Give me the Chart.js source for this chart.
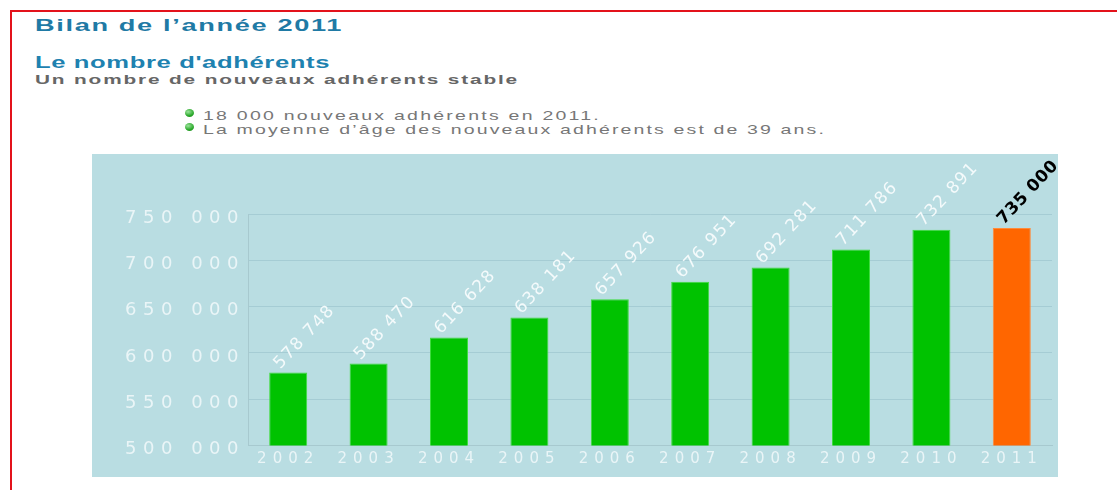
<!DOCTYPE html>
<html lang="fr">
<head>
<meta charset="utf-8">
<title>Bilan de l'année 2011</title>
<script src="https://cdn.jsdelivr.net/npm/chart.js@4.4.0/dist/chart.umd.min.js"></script>
<style>
  body { margin: 0; width: 1117px; height: 490px; background: #fff; position: relative; overflow: hidden; font-family: "Liberation Sans", Arial, sans-serif; }
  #cadre { position: absolute; left: 10px; top: 10px; width: 1120px; height: 490px; border-top: 2px solid #e3121b; border-left: 2px solid #e3121b; }
  .txt { position: absolute; left: 35px; margin: 0; white-space: nowrap; transform-origin: 0 0; line-height: 1; }
  #titre { top: 16.5px; font-size: 17px; font-weight: bold; color: #1f7aa5; }
  #soustitre { top: 54.5px; font-size: 16px; font-weight: bold; color: #1e82b0; }
  #accroche { top: 73px; font-size: 13px; font-weight: bold; color: #666; }
  .puce { left: 203px; font-size: 13px; color: #777; }
  .puce::before { content: ""; position: absolute; left: -12px; top: 0px; width: 6px; height: 8px; border-radius: 50%; background: radial-gradient(circle at 35% 35%, #9be39b, #2aa82a 60%, #1d861d); }
  #p1 { top: 109px; }
  #p2 { top: 123px; }
  #panneau { position: absolute; left: 92px; top: 154px; width: 966px; height: 323px; background: #b9dde2; }
  #zone { position: absolute; left: 92px; top: 154px; width: 1000px; height: 323px; }
</style>
</head>
<body>
<div id="cadre"></div>
<p class="txt" id="titre" data-w="308" data-s="1.6">Bilan de l’année 2011</p>
<p class="txt" id="soustitre" data-w="295" data-s="1.6">Le nombre d'adhérents</p>
<p class="txt" id="accroche" data-w="484" data-s="1.6">Un nombre de nouveaux adhérents stable</p>
<p class="txt puce" id="p1" data-w="398" data-s="1.5">18 000 nouveaux adhérents en 2011.</p>
<p class="txt puce" id="p2" data-w="623" data-s="1.5">La moyenne d’âge des nouveaux adhérents est de 39 ans.</p>
<div id="panneau"></div>
<div id="zone"><canvas id="adherentsChart" width="1000" height="323"></canvas></div>
<script>
// données
const annees = ['2002', '2003', '2004', '2005', '2006', '2007', '2008', '2009', '2010', '2011'];
const adherents = [578748, 588470, 616628, 638181, 657926, 676951, 692281, 711786, 732891, 735000];
const graduations = [500000, 550000, 600000, 650000, 700000, 750000];

// textes étirés comme sur l'image d'origine
document.querySelectorAll('[data-w]').forEach(el => {
    const s = +el.dataset.s;
    const n = el.textContent.length;
    const w = el.getBoundingClientRect().width;
    el.style.letterSpacing = Math.max(0, (el.dataset.w / s - w) / n) + 'px';
    el.style.transform = 'scaleX(' + s + ')';
});

function milliers(v) {
    return String(v).replace(/\B(?=(\d{3})+(?!\d))/g, ' ');
}

// étiquettes d'axe espacées
function espacer(scale, spacing, dy) {
    if (scale._espace) return;
    scale._espace = true;
    const draw = scale.drawLabels;
    scale.drawLabels = function (area) {
        const ctx = this.ctx;
        ctx.save();
        ctx.letterSpacing = spacing;
        ctx.translate(0, dy);
        draw.call(this, area);
        ctx.restore();
    };
}

// valeurs inclinées au-dessus des barres
const etiquettes = {
    id: 'etiquettes',
    afterDatasetsDraw(chart) {
        const ctx = chart.ctx;
        const bars = chart.getDatasetMeta(0).data;
        bars.forEach((bar, i) => {
            const derniere = i === bars.length - 1;
            ctx.save();
            ctx.translate(bar.x - 8, bar.y - 3);
            ctx.rotate(-Math.PI * 0.26);
            ctx.font = (derniere ? 'bold ' : '') + '17px "DejaVu Sans"';
            ctx.letterSpacing = derniere ? '0.5px' : '1.5px';
            ctx.fillStyle = derniere ? '#000' : '#f4fafb';
            ctx.textAlign = 'left';
            ctx.textBaseline = 'alphabetic';
            ctx.fillText(milliers(adherents[i]), 0, 0);
            ctx.restore();
        });
    }
};

const ctx = document.getElementById('adherentsChart').getContext('2d');
const adherentsChart = new Chart(ctx, {
    type: 'bar',
    data: {
        labels: annees,
        datasets: [{
            label: 'Adhérents',
            data: adherents,
            backgroundColor: c => c.dataIndex === annees.length - 1 ? '#ff6600' : '#00c200',
            borderColor: c => c.dataIndex === annees.length - 1 ? '#ff8a3a' : '#3fdc3f',
            borderWidth: 1,
            barPercentage: 0.473,
            categoryPercentage: 1
        }]
    },
    options: {
        responsive: false,
        animation: false,
        layout: { padding: { top: 60, right: 40, left: 0, bottom: 0 } },
        scales: {
            x: {
                grid: { display: false, drawTicks: false },
                border: { color: '#a7c9cf' },
                ticks: { color: '#eaf5f7', font: { family: 'DejaVu Sans', size: 15 }, padding: 5, maxRotation: 0 },
                afterFit: s => { s.height = 31.5; espacer(s, '6px', 0); }
            },
            y: {
                min: graduations[0],
                max: graduations[graduations.length - 1],
                afterBuildTicks: s => { s.ticks = graduations.map(v => ({ value: v })); },
                grid: { color: 'rgba(150,190,200,0.55)', drawTicks: false },
                border: { color: '#a7c9cf' },
                ticks: {
                    color: '#eaf5f7',
                    font: { family: 'DejaVu Sans', size: 18 },
                    padding: 3,
                    callback: v => milliers(v)
                },
                afterFit: s => { s.width = 156; espacer(s, '6.5px', 4); }
            }
        },
        plugins: {
            legend: { display: false },
            tooltip: { enabled: false }
        }
    },
    plugins: [etiquettes]
});
</script>
</body>
</html>
